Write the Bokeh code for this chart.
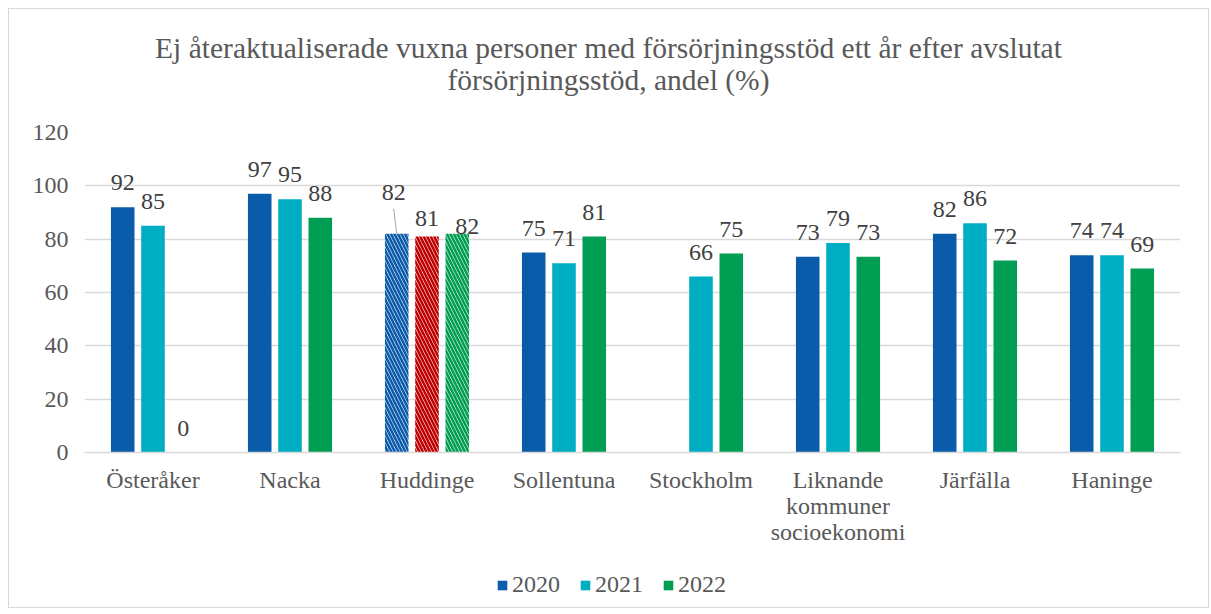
from bokeh.plotting import figure
from bokeh.layouts import column
from bokeh.models import (ColumnDataSource, FactorRange, Range1d, LabelSet, Legend,
                          LegendItem, FixedTicker, Div)
from bokeh.transform import dodge
from bokeh.embed import file_html
from bokeh.resources import INLINE

# ---------------- data ----------------
categories = ["Österåker", "Nacka", "Huddinge", "Sollentuna", "Stockholm",
              "Liknande\nkommuner\nsocioekonomi", "Järfälla", "Haninge"]
years = ["2020", "2021", "2022"]
values_2020 = [92, 97, 82, 75, None, 73.4, 82, 74]
values_2021 = [85, 95, 81, 71, 66, 78.6, 86, 74]
values_2022 = [0, 88, 82, 81, 74.6, 73.4, 72, 69]
y_ticks = [0, 20, 40, 60, 80, 100, 120]
title_line1 = "Ej återaktualiserade vuxna personer med försörjningsstöd ett år efter avslutat"
title_line2 = "försörjningsstöd, andel (%)"
highlight = "Huddinge"

# ---------------- style ----------------
FONT = "Liberation Serif"
TXT = "#595959"
GRID = "#d9d9d9"
year_colors = ["#0A5BA9", "#00AEC3", "#009E52"]
highlight_colors = ["#0A5BA9", "#C00000", "#009E52"]
offsets = [-0.221, 0.0, 0.221]
bar_w = 0.172
default_dy = 17
hl_label_dx = [-3, 0, 10]
hl_label_dy = [34, 11, 0]
W = 1199

series = [values_2020, values_2021, values_2022]

p = figure(x_range=FactorRange(*categories), y_range=Range1d(0, 120),
           frame_width=1096, frame_height=320,
           output_backend="svg", toolbar_location=None,
           min_border_left=75, min_border_right=28, min_border_top=20,
           min_border_bottom=115)
p.outline_line_color = None

for i, (yr, vals) in enumerate(zip(years, series)):
    norm = {"cat": [], "val": []}
    hl = {"cat": [], "val": []}
    lab = {"cat": [], "val": [], "txt": [], "dx": [], "dy": []}
    for c, v in zip(categories, vals):
        if v is None:
            continue
        if c == highlight:
            hl["cat"].append(c); hl["val"].append(v)
            lab["dx"].append(hl_label_dx[i]); lab["dy"].append(hl_label_dy[i])
        else:
            norm["cat"].append(c); norm["val"].append(v)
            lab["dx"].append(0); lab["dy"].append(default_dy)
        lab["cat"].append(c); lab["val"].append(v); lab["txt"].append(f"{round(v):d}")
    xs = dodge("cat", offsets[i], range=p.x_range)
    p.vbar(x=xs, top="val", width=bar_w, source=ColumnDataSource(norm),
           fill_color=year_colors[i], line_color=None)
    p.vbar(x=xs, top="val", width=bar_w, source=ColumnDataSource(hl),
           fill_color="white", line_color=None, hatch_pattern="\\",
           hatch_color=highlight_colors[i], hatch_scale=7, hatch_weight=2.6)
    p.add_layout(LabelSet(x=xs, y="val", text="txt", x_offset="dx", y_offset="dy",
                          source=ColumnDataSource(lab), text_align="center",
                          text_baseline="alphabetic", text_font=FONT,
                          text_font_size="24px", text_color="#404040"))

# leader line for the moved label of the highlighted 2020 bar
hv = values_2020[categories.index(highlight)]
ppu = 320 / 120
p.segment(x0=dodge("cat", offsets[0], range=p.x_range),
          x1=dodge("cat", offsets[0] - 3 / 137, range=p.x_range),
          y0="y0", y1="y1",
          source=ColumnDataSource({"cat": [highlight], "y0": [hv],
                                   "y1": [hv + (hl_label_dy[0] - 9) / ppu]}),
          line_color="#A6A6A6", line_width=1)

# axes
p.yaxis.ticker = FixedTicker(ticks=y_ticks)
p.yaxis.axis_line_color = None
p.yaxis.major_tick_line_color = None
p.yaxis.minor_tick_line_color = None
p.yaxis.major_tick_out = 0
p.yaxis.major_label_standoff = 16
p.xaxis.axis_line_color = GRID
p.xaxis.axis_line_width = 1.5
p.xaxis.major_tick_line_color = None
p.xaxis.major_tick_out = 0
p.xaxis.major_label_standoff = 14
p.xaxis.major_label_text_line_height = 1.0
for ax in (p.xaxis, p.yaxis):
    ax.major_label_text_font = FONT
    ax.major_label_text_font_size = "24px"
    ax.major_label_text_color = TXT
p.xgrid.grid_line_color = None
p.ygrid.grid_line_color = GRID
p.ygrid.grid_line_width = 1.5

# legend strip (separate small figure so the legend sits inside a frame)
pl = figure(width=W, height=40, x_range=Range1d(0, 1), y_range=Range1d(0, 1),
            x_axis_location=None, y_axis_location=None, output_backend="svg",
            toolbar_location=None, min_border=0)
pl.outline_line_color = None
pl.grid.visible = False
legend_items = []
for yr, col in zip(years, year_colors):
    # zero-height swatch bar: only provides the legend glyph
    r = pl.vbar(x=[0.5], top=[0], bottom=[0], width=0.01, fill_color=col,
                line_color=None)
    legend_items.append(LegendItem(label=yr, renderers=[r]))
legend = Legend(items=legend_items, orientation="horizontal", location=(412, 9),
                glyph_width=12, glyph_height=12, label_standoff=4, spacing=19,
                label_text_font=FONT, label_text_font_size="24px",
                label_text_color=TXT, border_line_color=None,
                background_fill_alpha=0, padding=2, margin=0)
pl.add_layout(legend, "center")

title = Div(text=(f'<div style="width:{W}px;text-align:center;font-family:\'{FONT}\';'
                  f'font-size:29.5px;line-height:32px;color:{TXT};padding-top:23px;">'
                  f'{title_line1}<br>{title_line2}</div>'),
            width=W, height=103, styles={"margin": "0", "padding": "0"})

layout = column(title, p, pl, spacing=0,
                styles={"border": "1px solid #d9d9d9", "margin-left": "8px",
                        "margin-top": "8px", "background-color": "white"})

open("out.html", "w").write(file_html(layout, INLINE))
